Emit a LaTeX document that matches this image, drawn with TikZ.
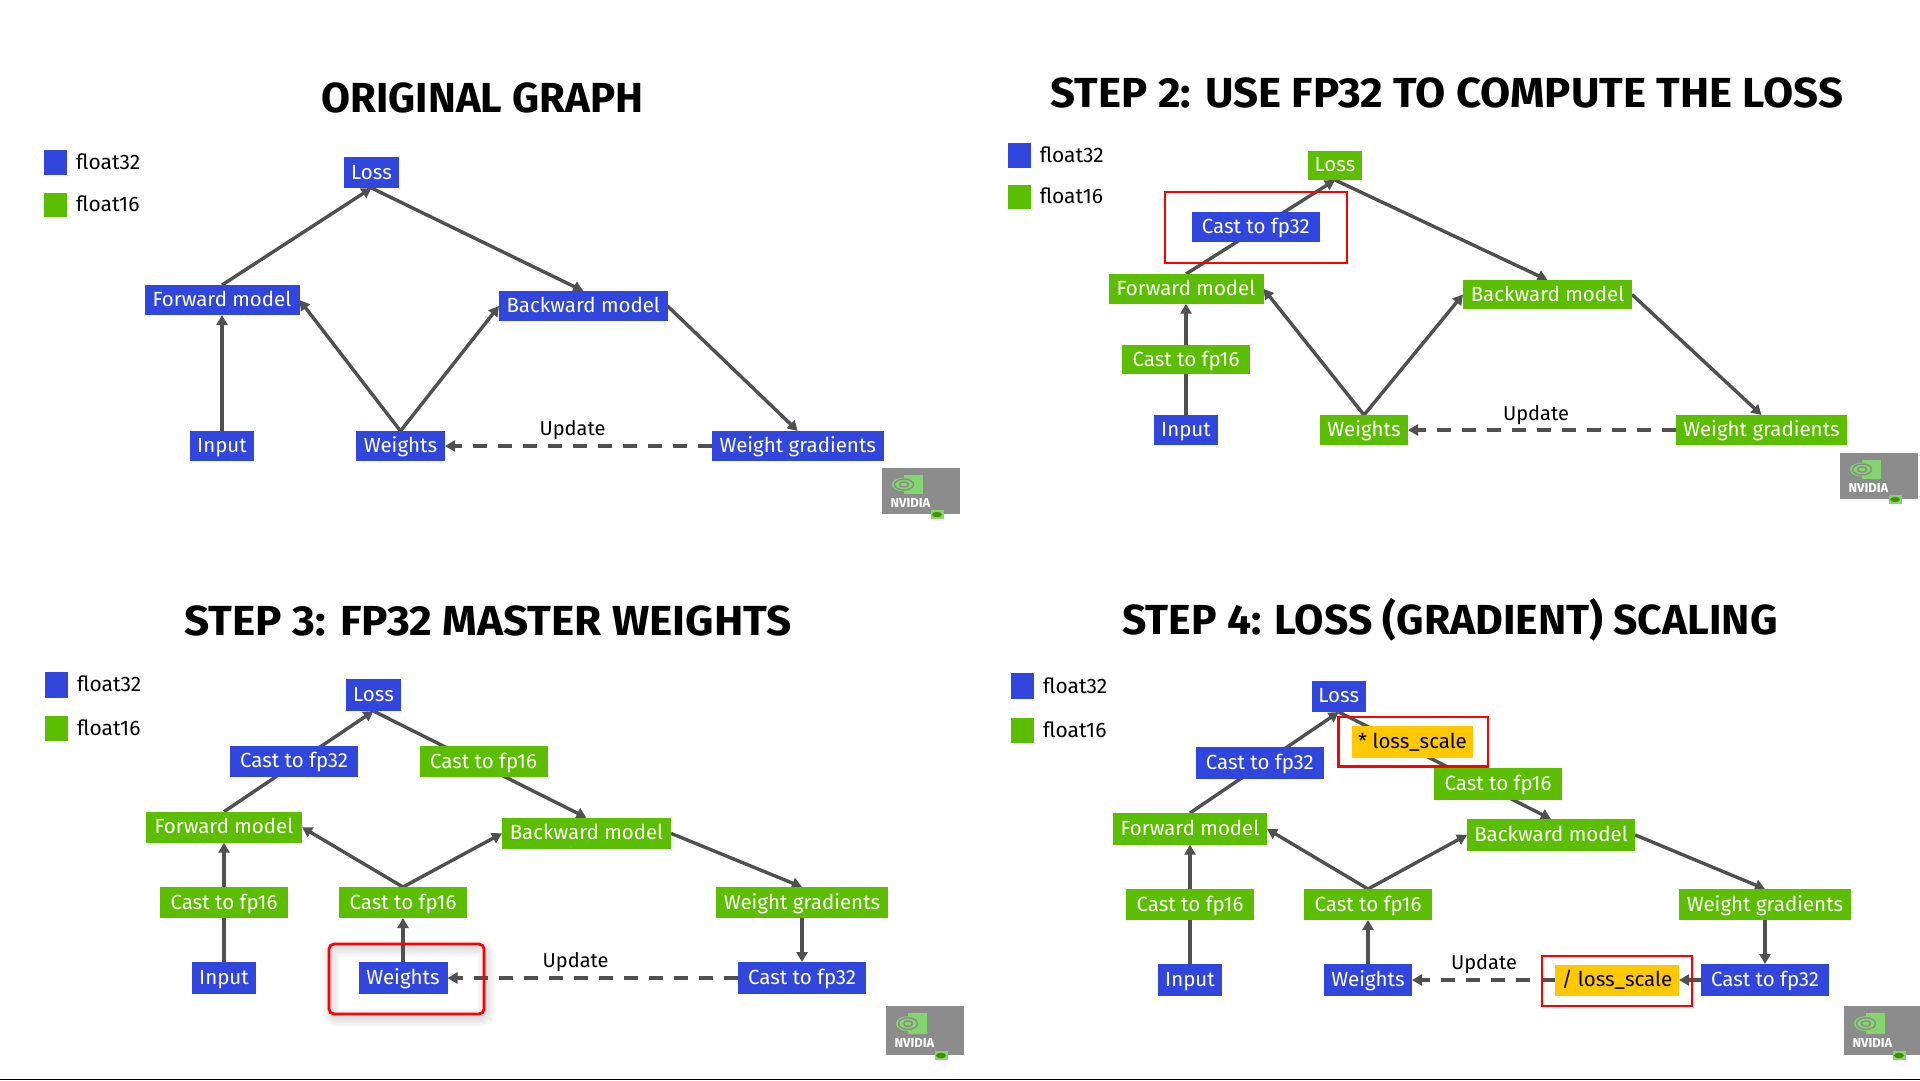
\documentclass[tikz,border=0pt]{standalone}
\usepackage{graphicx}
\usepackage{fontspec}
\setmainfont{Fira Sans}
\usetikzlibrary{arrows.meta,calc,backgrounds}
\definecolor{fpblue}{RGB}{48,70,220}
\definecolor{fpgreen}{RGB}{92,190,0}
\definecolor{fpgold}{RGB}{255,200,0}
\definecolor{edgegray}{RGB}{80,80,80}
\definecolor{logogray}{RGB}{140,140,140}
\definecolor{logogreen}{RGB}{132,212,112}
\tikzset{
  x=1pt,y=-1pt,
  boxbase/.style={inner sep=0pt,outer sep=0pt,text=white,font=\fontsize{20.5}{22}\selectfont,anchor=center,text height=14.5pt,text depth=1.5pt},
  blue32/.style={boxbase,fill=fpblue},
  green16/.style={boxbase,fill=fpgreen},
  goldbox/.style={boxbase,fill=fpgold,text=black},
  edge/.style={draw=edgegray,line width=3.4pt},
  tipped/.style={edge,-{Triangle[length=10pt,width=11pt]}},
  dashedge/.style={tipped,line width=3.8pt,dash pattern=on 14pt off 11pt},
  redmark/.style={draw=red,line width=2.8pt},
  softshadow/.style={draw=black,opacity=.025,rounded corners=6pt},
  titletext/.style={inner sep=0pt,font=\fontsize{42}{46}\selectfont\bfseries,text=black},
  legendtext/.style={inner sep=0pt,anchor=west,font=\fontsize{21}{23}\selectfont,text=black},
  updatetext/.style={inner sep=0pt,font=\fontsize{20}{22}\selectfont,text=black},
}
% #1 name, #2 style, #3 x1, #4 x2, #5 y1, #6 y2, #7 text
\newcommand{\bx}[7]{\node[#2,minimum width={(#4-#3)*1pt},minimum height={(#6-#5)*1pt}] (#1) at ({(#3+#4)/2},{(#5+#6)/2}) {#7};}
% #1 prefix, #2 x, #3 y1 blue, #4 y2 blue, #5 y1 green, #6 y2 green, #7 text x, #8 y text 32, #9 y text 16
\newcommand{\legendkey}[9]{%
  \bx{#1k32}{blue32}{#2}{#2+23}{#3}{#4}{}
  \bx{#1k16}{green16}{#2}{#2+23}{#5}{#6}{}
  \node[legendtext] (#1t32) at (#7,#8) {float32};
  \node[legendtext] (#1t16) at (#7,#9) {float16};
}
% #1 prefix, #2 left, #3 top, #4 yscale
\newcommand{\nvlogo}[4]{%
  \begin{scope}[shift={(#2,#3)},yscale=#4]
    \fill[logogray] (0,0) rectangle (78,46);
    \fill[logogreen] (22,7) rectangle (41,26);
    \fill[logogreen] (22,16.5) ellipse [x radius=12,y radius=7];
    \draw[logogray,line width=1.4pt] (22,16.5) ellipse [x radius=9.5,y radius=5.5];
    \draw[logogray,line width=1.4pt] (22,16.5) ellipse [x radius=4.5,y radius=2.6];
    \node[inner sep=0pt,text=white,font=\fontsize{13}{14}\selectfont\bfseries] (#1logo) at (28.5,35) {NVIDIA};
    \fill[logogreen] (49,42) rectangle (62,51);
    \fill[fpgreen!75!black] (55,46.5) ellipse [x radius=5,y radius=2.6];
  \end{scope}
}
\begin{document}
\begin{tikzpicture}
\useasboundingbox (0,0) rectangle (1920,1080);
\begin{scope}[on background layer]
\fill[white] (0,0) rectangle (1920,1080);
\end{scope}
\fill[black] (0,1078.7) rectangle (1920,1080);

%% ---------- panel 1
\node[titletext] (t1) at (482.5,98) {ORIGINAL GRAPH};
\legendkey{a}{44}{150}{175}{193}{217}{76}{162}{204}
\bx{aloss}{blue32}{344}{399}{157}{188}{Loss}
\bx{afwd}{blue32}{144.5}{299.5}{285}{315}{Forward model}
\bx{aback}{blue32}{499}{667.5}{291}{321}{Backward model}
\bx{ainp}{blue32}{190}{254}{431}{461}{Input}
\bx{awei}{blue32}{356}{445}{431}{461}{Weights}
\bx{agrad}{blue32}{711.5}{884}{431}{461}{Weight gradients}
\node[updatetext] (au) at (572.5,430) {Update};
\begin{scope}[on background layer]
\draw[tipped] (afwd.north) -- (aloss.south);
\draw[tipped] (aloss.south) -- (aback.north);
\draw[tipped] (ainp.north) -- (afwd.south);
\draw[tipped] (awei.north) -- (afwd.east);
\draw[tipped] (awei.north) -- (aback.west);
\draw[tipped] (aback.east) -- (agrad.north);
\draw[dashedge] (agrad.west) -- (awei.east);
\end{scope}
\nvlogo{a}{882}{468}{1}

%% ---------- panel 2
\node[titletext] (t2) at (1447,92.7) {\scalebox{1.042}[1]{STEP 2: USE FP32 TO COMPUTE THE LOSS}};
\legendkey{b}{1008}{143}{168}{185}{209}{1039.6}{155}{196}
\bx{bloss}{green16}{1308}{1362}{150.7}{180}{Loss}
\bx{bc32}{blue32}{1191.5}{1320}{212}{242}{Cast to fp32}
\bx{bfwd}{green16}{1108.5}{1263.5}{274}{303.7}{Forward model}
\bx{bback}{green16}{1463}{1632}{280}{309}{Backward model}
\bx{bc16}{green16}{1122}{1250}{345}{374}{Cast to fp16}
\bx{binp}{blue32}{1154}{1218}{415}{445}{Input}
\bx{bwei}{green16}{1320}{1408}{415}{445}{Weights}
\bx{bgrad}{green16}{1676}{1847}{415}{445}{Weight gradients}
\node[updatetext] (bu) at (1536,415) {Update};
\begin{scope}[on background layer]
\coordinate (bm) at ($(bfwd.north)!.5!(bloss.south)$);
\draw[edge] (bfwd.north) -- (bm);
\draw[tipped] (bm) -- (bloss.south);
\draw[tipped] (bloss.south) -- (bback.north);
\draw[edge] (binp.north) -- (bc16.south);
\draw[tipped] (bc16.north) -- (bfwd.south);
\draw[tipped] (bwei.north) -- (bfwd.east);
\draw[tipped] (bwei.north) -- (bback.west);
\draw[tipped] (bback.east) -- (bgrad.north);
\draw[dashedge] (bgrad.west) -- (bwei.east);
\end{scope}
\draw[redmark] (1165,192) rectangle (1347,263);
\nvlogo{b}{1840}{453}{1}

%% ---------- panel 3
\node[titletext] (t3) at (488,621) {\scalebox{1.049}[1]{STEP 3: FP32 MASTER WEIGHTS}};
\legendkey{c}{45}{672}{698}{716}{741}{77}{684}{728}
\bx{closs}{blue32}{346}{401}{679}{711}{Loss}
\bx{cc32}{blue32}{230}{358}{745.7}{777}{Cast to fp32}
\bx{cc16t}{green16}{419.5}{547.5}{746}{777}{Cast to fp16}
\bx{cfwd}{green16}{146}{302}{811.7}{842.7}{Forward model}
\bx{cback}{green16}{502}{671}{817.7}{849}{Backward model}
\bx{cc16l}{green16}{160}{288}{887}{918}{Cast to fp16}
\bx{cc16m}{green16}{339}{467}{887}{918}{Cast to fp16}
\bx{cgrad}{green16}{716}{888}{887}{918}{Weight gradients}
\bx{cinp}{blue32}{192}{256}{962}{994}{Input}
\bx{cwei}{blue32}{358.5}{447.5}{962}{994}{Weights}
\bx{cc32b}{blue32}{738}{866}{962}{994}{Cast to fp32}
\node[updatetext] (cu) at (575.6,962) {Update};
\begin{scope}[on background layer]
\foreach \w in {2,6,10,14,18}{
  \draw[softshadow,line width=\w pt] (331,948) rectangle (486,1018);
}
\coordinate (cm1) at ($(cfwd.north)!.5!(closs.south)$);
\coordinate (cm2) at ($(closs.south)!.5!(cback.north)$);
\draw[edge] (cfwd.north) -- (cm1);
\draw[tipped] (cm1) -- (closs.south);
\draw[edge] (closs.south) -- (cm2);
\draw[tipped] (cm2) -- (cback.north);
\draw[edge] (cinp.north) -- (cc16l.south);
\draw[tipped] (cc16l.north) -- (cfwd.south);
\draw[tipped] (cc16m.north) -- (cfwd.east);
\draw[tipped] (cc16m.north) -- (cback.west);
\draw[tipped] (cwei.north) -- (cc16m.south);
\draw[tipped] (cback.east) -- (cgrad.north);
\draw[tipped] (cgrad.south) -- (cc32b.north);
\draw[dashedge] (cc32b.west) -- (cwei.east);
\end{scope}
\draw[redmark,rounded corners=5pt] (329,944) rectangle (484,1014);
\nvlogo{c}{886}{1006}{1.065}

%% ---------- panel 4
\node[titletext] (t4) at (1450,620) {\scalebox{1.015}[1]{STEP 4: LOSS (GRADIENT) SCALING}};
\legendkey{d}{1011.4}{673}{699}{717.7}{743}{1043}{686}{730}
\bx{dloss}{blue32}{1311.5}{1366}{680.7}{712}{Loss}
\bx{dmul}{goldbox}{1352}{1473}{726}{757.7}{* loss\_scale}
\bx{dc32}{blue32}{1195.8}{1323.8}{747}{778.7}{Cast to fp32}
\bx{dc16t}{green16}{1434}{1562}{768}{800}{Cast to fp16}
\bx{dfwd}{green16}{1113}{1267}{813}{844.7}{Forward model}
\bx{dback}{green16}{1467}{1635}{819}{850.7}{Backward model}
\bx{dc16l}{green16}{1126}{1254}{889}{920}{Cast to fp16}
\bx{dc16m}{green16}{1304}{1432}{889}{920}{Cast to fp16}
\bx{dgrad}{green16}{1679}{1851}{889}{920}{Weight gradients}
\bx{dinp}{blue32}{1158}{1222}{964}{996}{Input}
\bx{dwei}{blue32}{1324}{1412}{964}{996}{Weights}
\bx{dc32b}{blue32}{1701}{1829}{964}{996}{Cast to fp32}
\bx{ddiv}{goldbox}{1555}{1679}{964.5}{995.5}{/ loss\_scale}
\node[updatetext] (du) at (1484,964) {Update};
\begin{scope}[on background layer]
\coordinate (dm1) at ($(dfwd.north)!.5!(dloss.south)$);
\coordinate (dm2) at ($(dloss.south)!.25!(dback.north)$);
\coordinate (dm3) at ($(dloss.south)!.75!(dback.north)$);
\draw[edge] (dfwd.north) -- (dm1);
\draw[tipped] (dm1) -- (dloss.south);
\draw[edge] (dloss.south) -- (dm2);
\draw[edge] (dm2) -- (dm3);
\draw[tipped] (dm3) -- (dback.north);
\draw[edge] (dinp.north) -- (dc16l.south);
\draw[tipped] (dc16l.north) -- (dfwd.south);
\draw[tipped] (dc16m.north) -- (dfwd.east);
\draw[tipped] (dc16m.north) -- (dback.west);
\draw[tipped] (dwei.north) -- (dc16m.south);
\draw[tipped] (dback.east) -- (dgrad.north);
\draw[tipped] (dgrad.south) -- (dc32b.north);
\draw[tipped] (dc32b.west) -- (ddiv.east);
\draw[dashedge] (ddiv.west) -- (dwei.east);
\end{scope}
\draw[redmark] (1338.4,717) rectangle (1488,766.7);
\draw[redmark] (1542,956) rectangle (1692,1006);
\nvlogo{d}{1844}{1006}{1.065}
\end{tikzpicture}
\end{document}
